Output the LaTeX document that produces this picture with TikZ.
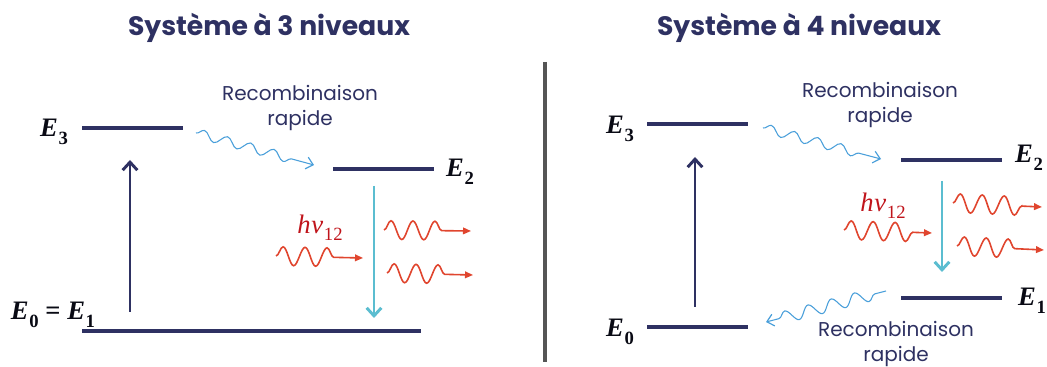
\documentclass[tikz,border=0pt]{standalone}
\usepackage{fontspec}
\setmainfont{Poppins}
\newfontfamily\lser{Liberation Serif}
\usetikzlibrary{arrows.meta,decorations.pathmorphing}
\newcommand\Esub[1]{{\lser\bfseries\itshape E}\kern0.5pt\raisebox{-0.28em}{\lser\bfseries\fontsize{14}{14}\selectfont #1}}
\newcommand\hnusub{{\lser\itshape h\kern0.5pt ν}\kern0.5pt\raisebox{-0.28em}{\lser\fontsize{14}{14}\selectfont 12}}
\definecolor{navy}{HTML}{2E3162}
\definecolor{cyanA}{HTML}{5BBDD0}
\definecolor{redW}{HTML}{E0452E}
\definecolor{redL}{HTML}{C0141B}
\definecolor{blueW}{HTML}{4A9FDA}
\definecolor{grayD}{HTML}{555555}
\tikzset{
  level/.style={navy, line width=2.3pt},
  pump/.style={navy, line width=2.2pt, -{Straight Barb[length=6pt,width=11pt,line width=2.2pt]}},
  emit/.style={cyanA, line width=2.2pt, -{Straight Barb[length=6pt,width=11pt,line width=2.2pt]}},
  title/.style={navy, font=\fontsize{20}{24}\selectfont\bfseries},
  rtext/.style={navy, font=\fontsize{15}{18.5}\selectfont, align=center},
  elabel/.style={black!80!navy, font=\fontsize{20}{22}\selectfont},
  hnu/.style={redL, font=\fontsize{20}{22}\selectfont},
  redwave/.style={redW, line width=1.2pt, decorate, decoration={snake, segment length=16.5pt, amplitude=7pt, post length=14pt},
     -{Triangle[length=6pt,width=5pt]}},
  bluewave/.style={blueW, line width=0.8pt, decorate, decoration={snake, segment length=18pt, amplitude=3.5pt, post length=10pt},
     -{Straight Barb[length=5pt,width=9pt,line width=0.9pt]}},
  bluewaveR/.style={blueW, line width=0.8pt, decorate, decoration={snake, segment length=18pt, amplitude=4.5pt, pre length=10pt},
     {Straight Barb[length=5pt,width=9pt,line width=0.9pt]}-},
}
\begin{document}
\begin{tikzpicture}[x=0.75pt,y=-0.75pt]
\useasboundingbox (0,0) rectangle (1047,367);
% ---------- left: 3 levels ----------
\node[title] (t1) at (269,28) {Système à 3 niveaux};
\coordinate (a3l) at (82,128);  \coordinate (a3r) at (183,128);
\coordinate (a2l) at (333,169); \coordinate (a2r) at (434,169);
\coordinate (a1l) at (82,331);  \coordinate (a1r) at (421,331);
\draw[level] (a3l) -- (a3r);
\draw[level] (a2l) -- (a2r);
\draw[level] (a1l) -- (a1r);
\node[elabel] (le3) at (54,132) {\Esub{3}};
\node[elabel] (le2) at (460,172) {\Esub{2}};
\node[elabel] (le01) at (53,315) {\Esub{0}\hspace{0.25em}{\lser\bfseries =}\hspace{0.25em}\Esub{1}};
\coordinate (pu1s) at (130,312); \coordinate (pu1e) at (130,160);
\draw[pump] (pu1s) -- (pu1e);
\coordinate (em1s) at (374,186); \coordinate (em1e) at (374,318);
\draw[emit] (em1s) -- (em1e);
\node[rtext] (r1) at (300,108) {Recombinaison\\rapide};
\coordinate (bw1s) at (196,133); \coordinate (bw1e) at (314,165);
\draw[bluewave] (bw1s) -- (bw1e);
\node[hnu] (h1) at (320,228) {\hnusub};
\coordinate (rw1s) at (276,256); \coordinate (rw1e) at (363,258);
\draw[redwave] (rw1s) -- (rw1e);
\coordinate (rw2s) at (384,230); \coordinate (rw2e) at (471,231);
\draw[redwave] (rw2s) -- (rw2e);
\coordinate (rw3s) at (387,273); \coordinate (rw3e) at (473,275);
\draw[redwave] (rw3s) -- (rw3e);
% ---------- divider ----------
\coordinate (dvt) at (545,62); \coordinate (dvb) at (545,362);
\draw[grayD, line width=3pt] (dvt) -- (dvb);
% ---------- right: 4 levels ----------
\node[title] (t2) at (799,28) {Système à 4 niveaux};
\coordinate (b3l) at (647,124); \coordinate (b3r) at (748,124);
\coordinate (b2l) at (901,160); \coordinate (b2r) at (1002,160);
\coordinate (b1l) at (901,298); \coordinate (b1r) at (1002,298);
\coordinate (b0l) at (647,327); \coordinate (b0r) at (748,327);
\draw[level] (b3l) -- (b3r);
\draw[level] (b2l) -- (b2r);
\draw[level] (b1l) -- (b1r);
\draw[level] (b0l) -- (b0r);
\node[elabel] (re3) at (620,129) {\Esub{3}};
\node[elabel] (re2) at (1029,158) {\Esub{2}};
\node[elabel] (re1) at (1032,301) {\Esub{1}};
\node[elabel] (re0) at (620,332) {\Esub{0}};
\coordinate (pu2s) at (695,307); \coordinate (pu2e) at (695,157);
\draw[pump] (pu2s) -- (pu2e);
\coordinate (em2s) at (942,181); \coordinate (em2e) at (942,272);
\draw[emit] (em2s) -- (em2e);
\node[rtext] (r2) at (880,105) {Recombinaison\\rapide};
\coordinate (bw2s) at (763,128); \coordinate (bw2e) at (881,159);
\draw[bluewave] (bw2s) -- (bw2e);
\node[rtext] (r3) at (896,344) {Recombinaison\\rapide};
\coordinate (bw3s) at (766,322); \coordinate (bw3e) at (886,291);
\draw[bluewaveR] (bw3s) -- (bw3e);
\node[hnu] (h2) at (883,206) {\hnusub};
\coordinate (rw4s) at (844,230); \coordinate (rw4e) at (932,233);
\draw[redwave] (rw4s) -- (rw4e);
\coordinate (rw5s) at (953,203); \coordinate (rw5e) at (1042,207);
\draw[redwave] (rw5s) -- (rw5e);
\coordinate (rw6s) at (957,246); \coordinate (rw6e) at (1044,250);
\draw[redwave] (rw6s) -- (rw6e);
\end{tikzpicture}
\end{document}
